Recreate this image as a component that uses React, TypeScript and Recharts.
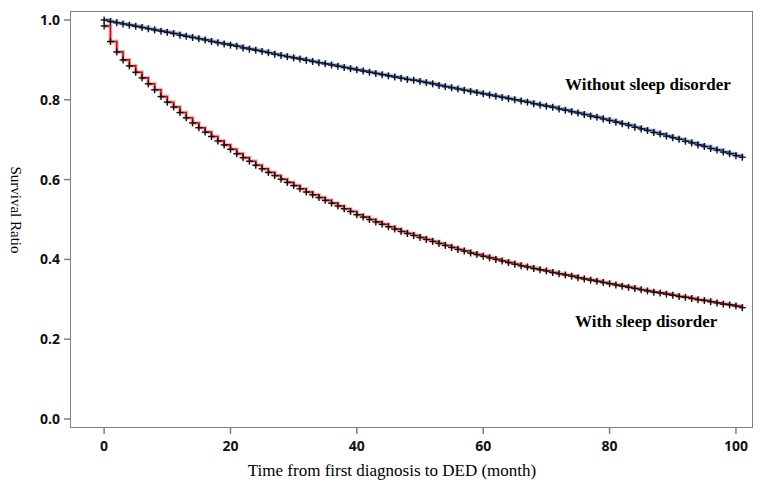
import React from "react";
import { LineChart, Line, XAxis, YAxis } from "recharts";

// survival ratio per month (0..101)
const withoutSleepDisorder = [
  1.0, 0.996, 0.993, 0.99, 0.987, 0.984, 0.981, 0.978, 0.975, 0.972,
  0.969, 0.966, 0.962, 0.959, 0.956, 0.953, 0.95, 0.946, 0.943, 0.94,
  0.937, 0.934, 0.93, 0.927, 0.924, 0.921, 0.918, 0.914, 0.911, 0.908,
  0.905, 0.902, 0.899, 0.896, 0.893, 0.89, 0.887, 0.884, 0.881, 0.878,
  0.875, 0.872, 0.869, 0.866, 0.863, 0.86, 0.857, 0.854, 0.851, 0.849,
  0.846, 0.843, 0.84, 0.836, 0.833, 0.83, 0.827, 0.824, 0.821, 0.818,
  0.815, 0.812, 0.809, 0.806, 0.803, 0.8, 0.797, 0.794, 0.79, 0.787,
  0.784, 0.781, 0.777, 0.774, 0.77, 0.767, 0.763, 0.759, 0.756, 0.752,
  0.748, 0.744, 0.74, 0.736, 0.731, 0.727, 0.723, 0.718, 0.714, 0.709,
  0.705, 0.701, 0.696, 0.692, 0.687, 0.683, 0.678, 0.674, 0.669, 0.665,
  0.66, 0.656,
];

const withSleepDisorder = [
  0.985, 0.946, 0.92, 0.9, 0.885, 0.869, 0.855, 0.84, 0.825, 0.808,
  0.794, 0.782, 0.768, 0.755, 0.742, 0.73, 0.719, 0.708, 0.697, 0.687,
  0.676, 0.665, 0.655, 0.646, 0.636, 0.627, 0.618, 0.61, 0.601, 0.593,
  0.585, 0.577, 0.569, 0.562, 0.555, 0.548, 0.541, 0.534, 0.527, 0.52,
  0.512, 0.506, 0.5, 0.494, 0.488, 0.482, 0.476, 0.47, 0.465, 0.46,
  0.455, 0.45, 0.445, 0.44, 0.435, 0.43, 0.425, 0.421, 0.416, 0.412,
  0.408, 0.404, 0.4, 0.396, 0.392, 0.388, 0.384, 0.381, 0.377, 0.374,
  0.371, 0.367, 0.364, 0.361, 0.358, 0.354, 0.351, 0.348, 0.345, 0.342,
  0.339, 0.336, 0.333, 0.33, 0.327, 0.324, 0.321, 0.318, 0.316, 0.313,
  0.31, 0.307, 0.305, 0.302, 0.299, 0.297, 0.294, 0.291, 0.288, 0.286,
  0.283, 0.279,
];

const xTicks = [0, 20, 40, 60, 80, 100];
const yTicks = [0, 0.2, 0.4, 0.6, 0.8, 1.0];

const data = withoutSleepDisorder.map((v, i) => ({
  month: i,
  without: v,
  with: withSleepDisorder[i],
}));

const tickFont = { fontFamily: "'Open Sans', sans-serif", fontWeight: 700, fontSize: 14, fill: "#111" };

const Cross = (props: any) => {
  const { cx, cy } = props;
  if (cx == null || cy == null) return null;
  return (
    <g>
      <line x1={cx - 3.5} y1={cy} x2={cx + 3.5} y2={cy} stroke="#111" strokeWidth={1.4} />
      <line x1={cx} y1={cy - 3.5} x2={cx} y2={cy + 3.5} stroke="#111" strokeWidth={1.4} />
    </g>
  );
};

export default function App() {
  return (
    <div style={{ position: "absolute", left: 0, top: 0, width: 765, height: 489, background: "#fff" }}>
      <LineChart width={765} height={489} data={data} margin={{ top: 11, right: 12, bottom: 0, left: 0 }}>
        <XAxis
          dataKey="month"
          type="number"
          domain={[-5.4, 102.7]}
          ticks={xTicks}
          allowDataOverflow
          height={61}
          axisLine={false}
          tickLine={{ stroke: "#808080", strokeWidth: 1.5 }}
          tickSize={6}
          tickMargin={7}
          tick={tickFont}
        />
        <YAxis
          type="number"
          domain={[-0.0225, 1.0225]}
          ticks={yTicks}
          allowDataOverflow
          width={70}
          axisLine={false}
          tickLine={{ stroke: "#808080", strokeWidth: 1.5 }}
          tickSize={6}
          tickMargin={4}
          tickFormatter={(v: number) => v.toFixed(1)}
          tick={tickFont}
        />
        <Line dataKey="without" type="stepAfter" stroke="#b9c6ea" strokeWidth={4} dot={false} isAnimationActive={false} />
        <Line dataKey="with" type="stepAfter" stroke="#f3b8b8" strokeWidth={4} dot={false} isAnimationActive={false} />
        <Line dataKey="without" type="stepAfter" stroke="#24479a" strokeWidth={1.6} dot={<Cross />} isAnimationActive={false} />
        <Line dataKey="with" type="stepAfter" stroke="#b3151b" strokeWidth={1.6} dot={<Cross />} isAnimationActive={false} />
      </LineChart>
      <div
        style={{
          position: "absolute",
          left: 69.5,
          top: 10.5,
          width: 683,
          height: 417,
          border: "1.5px solid #808080",
          boxSizing: "border-box",
        }}
      />
      <div
        style={{
          position: "absolute",
          left: 565,
          top: 75,
          fontFamily: "'Liberation Serif', serif",
          fontWeight: 700,
          fontSize: 17,
          whiteSpace: "nowrap",
        }}
      >
        Without sleep disorder
      </div>
      <div
        style={{
          position: "absolute",
          left: 575,
          top: 312,
          fontFamily: "'Liberation Serif', serif",
          fontWeight: 700,
          fontSize: 17,
          whiteSpace: "nowrap",
        }}
      >
        With sleep disorder
      </div>
      <div
        style={{
          position: "absolute",
          left: 0,
          width: 784,
          top: 461,
          textAlign: "center",
          fontFamily: "'Liberation Serif', serif",
          fontSize: 17,
          whiteSpace: "nowrap",
        }}
      >
        Time from first diagnosis to DED (month)
      </div>
      <div
        style={{
          position: "absolute",
          left: 15,
          top: 210,
          transform: "translate(-50%, -50%) rotate(90deg)",
          fontFamily: "'Liberation Serif', serif",
          fontSize: 15,
          whiteSpace: "nowrap",
        }}
      >
        Survival Ratio
      </div>
    </div>
  );
}
